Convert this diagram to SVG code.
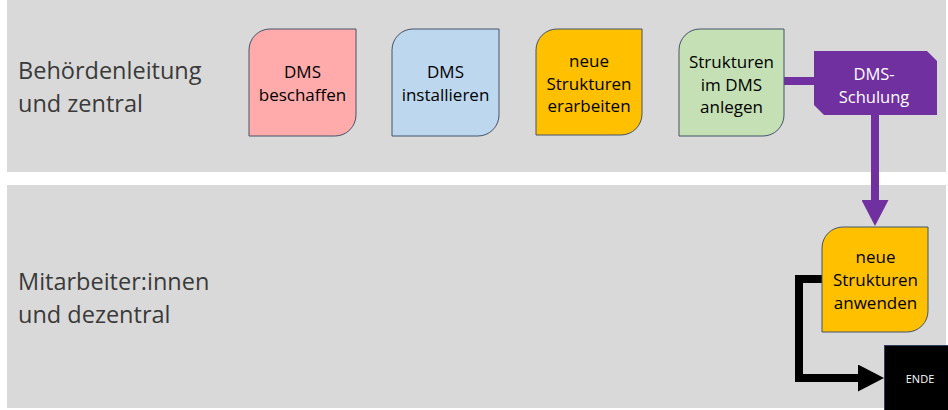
<svg xmlns="http://www.w3.org/2000/svg" width="948" height="410" viewBox="0 0 948 410">
  <style>
    .lane { fill: #d9d9d9; }
    .lanelabel { font-family: "Open Sans", "Noto Sans", sans-serif; font-size: 23.5px; fill: #3a3a3a; }
    .node { stroke: #44546a; stroke-width: 1; }
    .txt { font-family: "Open Sans", "Noto Sans", sans-serif; font-size: 17px; fill: #000; text-anchor: middle; }
    .wtxt { font-family: "Open Sans", "Noto Sans", sans-serif; font-size: 16.5px; fill: #fff; text-anchor: middle; }
    .endtxt { font-family: "Open Sans", "Noto Sans", sans-serif; font-size: 11px; fill: #fff; text-anchor: middle; }
    .conn { fill: none; stroke-width: 8; stroke-linejoin: miter; }
  </style>
  <defs>
    <marker id="arrPurple" viewBox="0 0 26 27" markerWidth="26" markerHeight="27" refX="0" refY="13.5" orient="auto" markerUnits="userSpaceOnUse">
      <path d="M0,0 L26,13.5 L0,27 Z" fill="#7030a0"/>
    </marker>
    <marker id="arrBlack" viewBox="0 0 26 27" markerWidth="26" markerHeight="27" refX="0" refY="13.5" orient="auto" markerUnits="userSpaceOnUse">
      <path d="M0,0 L26,13.5 L0,27 Z" fill="#000"/>
    </marker>
  </defs>

  <g id="lanes">
    <rect class="lane" x="7" y="0" width="939" height="172"/>
    <rect class="lane" x="7" y="185" width="939" height="223"/>
    <text class="lanelabel" x="18" y="79">Behördenleitung</text>
    <text class="lanelabel" x="18" y="112">und zentral</text>
    <text class="lanelabel" x="18" y="290">Mitarbeiter:innen</text>
    <text class="lanelabel" x="18" y="323">und dezentral</text>
  </g>

  <g id="connectors">
    <line class="conn" x1="784" y1="81" x2="815" y2="81" stroke="#7030a0"/>
    <line class="conn" x1="875" y1="114" x2="875" y2="200" stroke="#7030a0" marker-end="url(#arrPurple)"/>
    <polyline class="conn" points="822,279 799,279 799,378 858,378" stroke="#000" marker-end="url(#arrBlack)"/>
  </g>

  <g id="n1">
    <path class="node" fill="#ffabab" d="M249,50 A21,21 0 0 1 270,29 H356 V115 A21,21 0 0 1 335,136 H249 Z"/>
    <text class="txt" x="302.5" y="78">DMS</text>
    <text class="txt" x="302.5" y="101">beschaffen</text>
  </g>

  <g id="n2">
    <path class="node" fill="#bdd7ee" d="M392,50 A21,21 0 0 1 413,29 H499 V115 A21,21 0 0 1 478,136 H392 Z"/>
    <text class="txt" x="445.5" y="78">DMS</text>
    <text class="txt" x="445.5" y="101">installieren</text>
  </g>

  <g id="n3">
    <path class="node" fill="#ffc000" d="M536,50 A21,21 0 0 1 557,29 H642 V114 A21,21 0 0 1 621,135 H536 Z"/>
    <text class="txt" x="589" y="67">neue</text>
    <text class="txt" x="589" y="89.5">Strukturen</text>
    <text class="txt" x="589" y="112">erarbeiten</text>
  </g>

  <g id="n4">
    <path class="node" fill="#c5e0b4" d="M679,50 A21,21 0 0 1 700,29 H784 V115 A21,21 0 0 1 763,136 H679 Z"/>
    <text class="txt" x="731.5" y="68">Strukturen</text>
    <text class="txt" x="731.5" y="90.5">im DMS</text>
    <text class="txt" x="731.5" y="113">anlegen</text>
  </g>

  <g id="n5">
    <path fill="#7030a0" d="M814,51 H927 L937,61 V115 H824 L814,105 Z"/>
    <text class="wtxt" x="874" y="80">DMS-</text>
    <text class="wtxt" x="874" y="103">Schulung</text>
  </g>

  <g id="n6">
    <path class="node" fill="#ffc000" d="M822,248 A21,21 0 0 1 843,227 H928 V311 A21,21 0 0 1 907,332 H822 Z"/>
    <text class="txt" x="875.5" y="263">neue</text>
    <text class="txt" x="875.5" y="286">Strukturen</text>
    <text class="txt" x="875.5" y="309">anwenden</text>
  </g>

  <g id="n7">
    <rect x="884.5" y="345.5" width="72" height="70" fill="#000" stroke="#2f3e5c" stroke-width="1"/>
    <text class="endtxt" x="920" y="383">ENDE</text>
  </g>
</svg>
